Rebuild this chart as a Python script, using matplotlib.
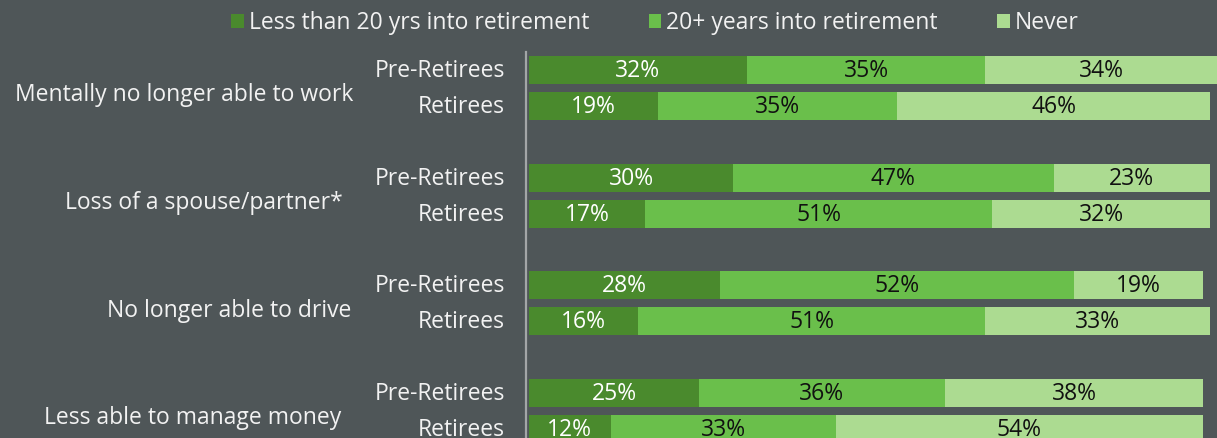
import numpy as np
import matplotlib.pyplot as plt
from matplotlib.patches import Patch
import matplotlib.transforms as mtransforms

# Data
groups = ['Mentally no longer able to work', 'Loss of a spouse/partner*',
          'No longer able to drive', 'Less able to manage money']
subgroups = ['Pre-Retirees', 'Retirees']
series = ['Less than 20 yrs into retirement', '20+ years into retirement', 'Never']

less20 = np.array([32, 19, 30, 17, 28, 16, 25, 12])
plus20 = np.array([35, 35, 47, 51, 52, 51, 36, 33])
never = np.array([34, 46, 23, 32, 19, 33, 38, 54])

colors = ['#4a8a2d', '#6abf4b', '#acdb91']
text_colors = ['white', '#111111', '#111111']
bg = '#4f5658'

plt.rcParams['font.family'] = ['Open Sans', 'DejaVu Sans']
fs = 16.5

fig = plt.figure(figsize=(12.17, 4.38), dpi=100)
fig.patch.set_facecolor(bg)
ax = fig.add_axes([529 / 1217, 0, 688 / 1217, 1 - 52 / 438])
ax.set_facecolor(bg)

# row positions: two rows per group, gap of one row between groups
ypos = np.array([3 * g + s for g in range(len(groups)) for s in range(2)])
bar_h = 0.78

left = np.zeros(len(ypos))
for vals, col, tcol in zip([less20, plus20, never], colors, text_colors):
    ax.barh(ypos, vals, left=left, height=bar_h, color=col, edgecolor='none')
    for y, l, v in zip(ypos, left, vals):
        ax.text(l + v / 2, y + 0.03, f'{v}%', ha='center', va='center',
                color=tcol, fontsize=fs)
    left = left + vals

ax.set_xlim(0, 101)
ax.set_ylim(10.25, -0.5)
ax.set_xticks([])
ax.set_yticks([])
for sp in ['top', 'right', 'bottom']:
    ax.spines[sp].set_visible(False)
ax.spines['left'].set_color('#a3a6a7')
ax.spines['left'].set_linewidth(1.6)
ax.spines['left'].set_position(('outward', 2))

# subgroup labels
trans = mtransforms.blended_transform_factory(ax.transAxes, ax.transData)
for i, y in enumerate(ypos):
    ax.text(-24 / 688, y + 0.03, subgroups[i % 2], transform=trans, ha='right',
            va='center', color='#f2f2f2', fontsize=fs)

# group labels (right edges differ slightly in the original)
label_right = [353, 343, 351, 341]
for g, name in enumerate(groups):
    ax.text((label_right[g] - 529) / 688, 3 * g + 0.7, name, transform=trans,
            ha='right', va='center', color='#f2f2f2', fontsize=fs)

handles = [Patch(facecolor=c, edgecolor='none') for c in colors]
leg = fig.legend(handles, series, loc='center', bbox_to_anchor=(655 / 1217, 1 - 23 / 438),
                 ncol=3, frameon=False, fontsize=fs, handlelength=0.55,
                 handleheight=0.55, handletextpad=0.22, columnspacing=2.6,
                 labelcolor='#f2f2f2')

fig.savefig('out.png', dpi=100, facecolor=bg)
